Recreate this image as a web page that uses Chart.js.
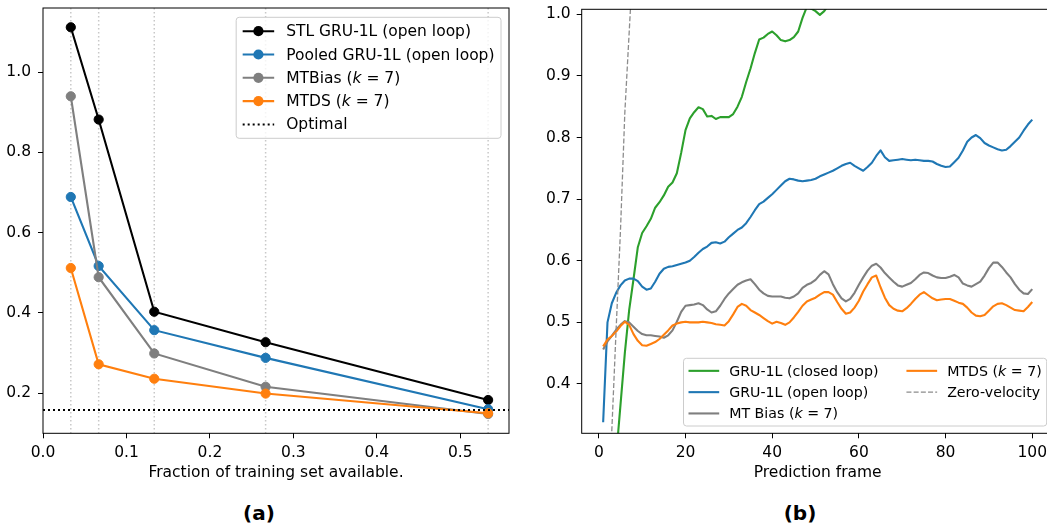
<!DOCTYPE html>
<html>
<head>
<meta charset="utf-8">
<script src="https://cdn.jsdelivr.net/npm/chart.js@4.4.1/dist/chart.umd.min.js"></script>
<style>
  html, body { margin: 0; padding: 0; background: #fff; }
  #wrap { position: relative; width: 1047px; height: 529px; overflow: hidden; }
  #left { position: absolute; left: 0; top: 0; }
  #right { position: absolute; left: 530px; top: 0; }
  .cap { position: absolute; top: 500px; width: 100px; text-align: center;
         font: bold 20px "DejaVu Sans", sans-serif; line-height: 26px; color: #000; }
</style>
</head>
<body>
<div id="wrap">
  <canvas id="left" width="530" height="495"></canvas>
  <canvas id="right" width="540" height="495"></canvas>
  <div class="cap" style="left:209px">(a)</div>
  <div class="cap" style="left:750px">(b)</div>
</div>
<script>
// ---- panel (a): error vs. fraction of training set ----
const FRACTIONS = [0.0333, 0.0667, 0.1333, 0.2667, 0.5333];
const STL_GRU = [1.112, 0.882, 0.403, 0.327, 0.183];
const POOLED_GRU = [0.689, 0.517, 0.357, 0.288, 0.160];
const MTBIAS_A = [0.940, 0.489, 0.299, 0.216, 0.148];
const MTDS_A = [0.512, 0.272, 0.236, 0.199, 0.150];
const OPTIMAL = 0.158;
const X_MIN_A = 0, X_MAX_A = 0.5583;
const X_TICKS_A = [0, 0.1, 0.2, 0.3, 0.4, 0.5];
const Y_TICKS_A = [0.2, 0.4, 0.6, 0.8, 1.0];

// ---- panel (b): error per prediction frame ----
const FRAMES = Array.from({ length: 100 }, (_, i) => i + 1);
const GRU_CLOSED = [
  0.06, 0.14, 0.21, 0.283, 0.366, 0.45, 0.52, 0.57, 0.622, 0.645,
  0.656, 0.668, 0.686, 0.695, 0.706, 0.720, 0.727, 0.742, 0.775, 0.812,
  0.831, 0.841, 0.849, 0.846, 0.834, 0.835, 0.830, 0.833, 0.833, 0.833,
  0.838, 0.850, 0.866, 0.890, 0.912, 0.937, 0.959, 0.962, 0.968, 0.972,
  0.966, 0.958, 0.956, 0.958, 0.963, 0.972, 0.994, 1.012, 1.009, 1.005,
  0.999, 1.005, 1.015, 1.025, 1.035
];
const GRU_OPEN = [
  0.338, 0.500, 0.531, 0.548, 0.560, 0.568, 0.571, 0.571, 0.567, 0.558,
  0.553, 0.555, 0.566, 0.579, 0.587, 0.590, 0.591, 0.593, 0.595, 0.597,
  0.600, 0.606, 0.613, 0.619, 0.623, 0.629, 0.630, 0.628, 0.631, 0.638,
  0.644, 0.650, 0.654, 0.661, 0.671, 0.682, 0.692, 0.696, 0.702, 0.708,
  0.715, 0.722, 0.729, 0.733, 0.732, 0.730, 0.729, 0.730, 0.731, 0.733,
  0.737, 0.740, 0.743, 0.746, 0.750, 0.754, 0.757, 0.759, 0.754, 0.750,
  0.746, 0.752, 0.759, 0.770, 0.779, 0.768, 0.762, 0.763, 0.764, 0.765,
  0.764, 0.763, 0.764, 0.763, 0.762, 0.762, 0.761, 0.757, 0.754, 0.752,
  0.753, 0.760, 0.767, 0.779, 0.793, 0.800, 0.804, 0.799, 0.791, 0.787,
  0.784, 0.781, 0.779, 0.780, 0.786, 0.793, 0.800, 0.811, 0.821, 0.829
];
const MTBIAS_B = [
  0.456, 0.469, 0.478, 0.488, 0.496, 0.502, 0.500, 0.493, 0.486, 0.481,
  0.479, 0.479, 0.478, 0.477, 0.475, 0.479, 0.487, 0.501, 0.517, 0.527,
  0.528, 0.529, 0.531, 0.528, 0.521, 0.516, 0.518, 0.527, 0.538, 0.547,
  0.554, 0.561, 0.565, 0.568, 0.570, 0.562, 0.553, 0.547, 0.543, 0.542,
  0.542, 0.542, 0.540, 0.539, 0.542, 0.547, 0.556, 0.561, 0.564, 0.569,
  0.577, 0.583, 0.578, 0.562, 0.549, 0.539, 0.534, 0.538, 0.548, 0.561,
  0.573, 0.584, 0.592, 0.595, 0.589, 0.580, 0.573, 0.566, 0.560, 0.558,
  0.561, 0.564, 0.570, 0.577, 0.581, 0.580, 0.576, 0.573, 0.572, 0.572,
  0.574, 0.577, 0.573, 0.563, 0.560, 0.558, 0.562, 0.566, 0.576, 0.588,
  0.597, 0.597, 0.590, 0.581, 0.573, 0.562, 0.553, 0.547, 0.546, 0.554
];
const MTDS_B = [
  0.461, 0.472, 0.478, 0.485, 0.494, 0.501, 0.496, 0.481, 0.470, 0.463,
  0.462, 0.465, 0.468, 0.473, 0.480, 0.487, 0.495, 0.498, 0.500, 0.501,
  0.500, 0.500, 0.500, 0.501, 0.500, 0.499, 0.497, 0.496, 0.495, 0.502,
  0.513, 0.525, 0.530, 0.527, 0.520, 0.516, 0.512, 0.507, 0.502, 0.498,
  0.501, 0.499, 0.496, 0.500, 0.508, 0.517, 0.527, 0.534, 0.537, 0.540,
  0.545, 0.549, 0.549, 0.545, 0.533, 0.522, 0.514, 0.516, 0.524, 0.535,
  0.550, 0.562, 0.573, 0.576, 0.557, 0.540, 0.528, 0.522, 0.519, 0.518,
  0.523, 0.530, 0.538, 0.545, 0.549, 0.544, 0.539, 0.536, 0.537, 0.538,
  0.538, 0.535, 0.532, 0.530, 0.524, 0.516, 0.511, 0.510, 0.512, 0.519,
  0.526, 0.530, 0.531, 0.528, 0.524, 0.520, 0.519, 0.518, 0.525, 0.533
];
const ZERO_VEL = [0.02, 0.17, 0.325, 0.49, 0.65, 0.84, 0.97, 1.10, 1.22, 1.33];
const X_MIN_B = -3.95, X_MAX_B = 104.95;
const Y_MIN_B = 0.32, Y_MAX_B = 1.008;
const X_TICKS_B = [0, 20, 40, 60, 80, 100];
const Y_TICKS_B = [0.4, 0.5, 0.6, 0.7, 0.8, 0.9, 1.0];

const FONT = '"DejaVu Sans", sans-serif';
Chart.defaults.font.family = FONT;
Chart.defaults.font.size = 15.5;
Chart.defaults.color = '#000';

const pts = (xs, ys) => ys.map((y, i) => ({ x: xs[i], y }));

// label text with an italic "k" (matplotlib mathtext look)
function drawLabel(ctx, text, x, y, size, draw) {
  const parts = text.split(/(?<=\()k(?= =)/);
  let cx = x;
  parts.forEach((p, i) => {
    if (i > 0) {
      ctx.font = `italic ${size}px ${FONT}`;
      if (draw) ctx.fillText('k', cx, y);
      cx += ctx.measureText('k').width;
      ctx.font = `${size}px ${FONT}`;
    }
    if (draw) ctx.fillText(p, cx, y);
    cx += ctx.measureText(p).width;
  });
  return cx - x;
}

const decor = {
  id: 'decor',
  beforeDatasetsDraw(chart, args, o) {
    if (!o.guides) return;
    const { ctx, chartArea: a, scales } = chart;
    ctx.save();
    ctx.strokeStyle = '#c8c8c8';
    ctx.lineWidth = 1.5;
    ctx.setLineDash([1.5, 2.5]);
    o.guides.forEach(v => {
      const px = scales.x.getPixelForValue(v);
      ctx.beginPath();
      ctx.moveTo(px, a.top);
      ctx.lineTo(px, a.bottom);
      ctx.stroke();
    });
    ctx.restore();
  },
  afterDatasetsDraw(chart, args, o) {
    const { ctx, chartArea: a } = chart;
    ctx.save();
    // spines
    ctx.strokeStyle = '#000';
    ctx.lineWidth = 1;
    ctx.strokeRect(a.left, a.top, a.right - a.left, a.bottom - a.top);

    // legend
    const L = o.legend;
    const ds = chart.data.datasets;
    ctx.font = `${L.size}px ${FONT}`;
    const cols = Math.ceil(ds.length / L.rows);
    const colW = [];
    for (let c = 0; c < cols; c++) {
      let w = 0;
      for (let r = 0; r < L.rows; r++) {
        const d = ds[c * L.rows + r];
        if (d) w = Math.max(w, drawLabel(ctx, d.label, 0, 0, L.size, false));
      }
      colW.push(L.handleLen + L.handlePad + w);
    }
    const boxW = 2 * L.padX + colW.reduce((s, w) => s + w, 0) + L.colGap * (cols - 1);
    const boxH = 2 * L.padY + L.rows * L.rowH;
    const x0 = a.right - L.insetX - boxW;
    const y0 = L.top ? a.top + L.insetY : a.bottom - L.insetY - boxH;
    ctx.beginPath();
    ctx.roundRect(x0, y0, boxW, boxH, 3);
    ctx.fillStyle = 'rgba(255,255,255,0.8)';
    ctx.fill();
    ctx.strokeStyle = '#cccccc';
    ctx.stroke();

    ctx.textBaseline = 'middle';
    ctx.textAlign = 'left';
    let cx = x0 + L.padX;
    for (let c = 0; c < cols; c++) {
      for (let r = 0; r < L.rows; r++) {
        const d = ds[c * L.rows + r];
        if (!d) continue;
        const cy = y0 + L.padY + (r + 0.5) * L.rowH;
        ctx.strokeStyle = d.borderColor;
        ctx.lineWidth = d.borderWidth;
        ctx.setLineDash(d.borderDash || []);
        ctx.beginPath();
        ctx.moveTo(cx, cy);
        ctx.lineTo(cx + L.handleLen, cy);
        ctx.stroke();
        ctx.setLineDash([]);
        if (d.pointRadius > 0) {
          ctx.fillStyle = d.borderColor;
          ctx.beginPath();
          ctx.arc(cx + L.handleLen / 2, cy, d.pointRadius + 0.5, 0, Math.PI * 2);
          ctx.fill();
        }
        ctx.fillStyle = '#000';
        drawLabel(ctx, d.label, cx + L.handleLen + L.handlePad, cy + 1, L.size, true);
      }
      cx += colW[c] + L.colGap;
    }
    ctx.restore();
  }
};

function xAxis(min, max, ticks, fmt, title, h) {
  return {
    type: 'linear', min, max,
    afterBuildTicks: s => { s.ticks = ticks.map(v => ({ value: v })); },
    afterFit: s => { s.height = h; s.paddingLeft = 0; s.paddingRight = 0; },
    grid: { drawOnChartArea: false, color: '#000', tickLength: 5 },
    border: { display: false },
    ticks: { callback: v => fmt(v), padding: 5, maxRotation: 0, autoSkip: false },
    title: { display: true, text: title, padding: { top: 0, bottom: 13 } }
  };
}
function yAxis(min, max, ticks, w, pad) {
  return {
    type: 'linear', min, max,
    afterBuildTicks: s => { s.ticks = ticks.map(v => ({ value: v })); },
    afterFit: s => { s.width = w; s.paddingTop = 0; s.paddingBottom = 0; },
    grid: { drawOnChartArea: false, color: '#000', tickLength: 5 },
    border: { display: false },
    ticks: { callback: v => Number(v).toFixed(1), padding: pad, autoSkip: false }
  };
}

function markerLine(label, color, ys, order) {
  return {
    label, data: pts(FRACTIONS, ys), borderColor: color, backgroundColor: color,
    borderWidth: 2.1, pointRadius: 4.6, pointBorderWidth: 1, pointBorderColor: color,
    pointBackgroundColor: color, tension: 0, order
  };
}
function plainLine(label, color, ys, order, extra) {
  return Object.assign({
    label, data: pts(FRAMES, ys), borderColor: color, borderWidth: 2.1,
    pointRadius: 0, tension: 0, borderJoinStyle: 'round', order, clip: 0
  }, extra || {});
}

new Chart(document.getElementById('left'), {
  type: 'line',
  data: {
    datasets: [
      markerLine('STL GRU-1L (open loop)', '#000000', STL_GRU, 5),
      markerLine('Pooled GRU-1L (open loop)', '#1f77b4', POOLED_GRU, 4),
      markerLine('MTBias (k = 7)', '#7f7f7f', MTBIAS_A, 3),
      markerLine('MTDS (k = 7)', '#ff7f0e', MTDS_A, 2),
      {
        label: 'Optimal', data: [{ x: X_MIN_A, y: OPTIMAL }, { x: X_MAX_A, y: OPTIMAL }],
        borderColor: '#000000', borderWidth: 2, borderDash: [2, 3], pointRadius: 0, order: 1
      }
    ]
  },
  options: {
    responsive: false, animation: false, devicePixelRatio: 1,
    layout: { padding: { top: 8, right: 21, bottom: 0, left: 0 } },
    scales: {
      x: xAxis(X_MIN_A, X_MAX_A, X_TICKS_A, v => Number(v).toFixed(1), 'Fraction of training set available.', 61.7),
      y: yAxis(0.1, 1.16, Y_TICKS_A, 43, 7)
    },
    plugins: {
      legend: { display: false }, tooltip: { enabled: false },
      decor: {
        guides: FRACTIONS,
        legend: { size: 15.5, rows: 5, padX: 6.5, padY: 2.25, rowH: 23.3, handleLen: 31.5, handlePad: 12, colGap: 0, insetX: 8, insetY: 9.3, top: true }
      }
    }
  },
  plugins: [decor]
});

new Chart(document.getElementById('right'), {
  type: 'line',
  data: {
    datasets: [
      plainLine('GRU-1L (closed loop)', '#2ca02c', GRU_CLOSED, 5),
      plainLine('GRU-1L (open loop)', '#1f77b4', GRU_OPEN, 4),
      plainLine('MT Bias (k = 7)', '#7f7f7f', MTBIAS_B, 3),
      plainLine('MTDS (k = 7)', '#ff7f0e', MTDS_B, 2),
      plainLine('Zero-velocity', '#8c8c8c', ZERO_VEL, 1, { borderWidth: 1.3, borderDash: [5, 2.2] })
    ]
  },
  options: {
    responsive: false, animation: false, devicePixelRatio: 1,
    layout: { padding: { top: 9.3, right: 16.3, bottom: 0, left: 0 } },
    scales: {
      x: xAxis(X_MIN_B, X_MAX_B, X_TICKS_B, v => String(v), 'Prediction frame', 61.7),
      y: yAxis(Y_MIN_B, Y_MAX_B, Y_TICKS_B, 51.7, 6)
    },
    plugins: {
      legend: { display: false }, tooltip: { enabled: false },
      decor: {
        legend: { size: 14.2, rows: 3, padX: 5, padY: 1.9, rowH: 21.3, handleLen: 30.7, handlePad: 10, colGap: 28, insetX: 7, insetY: 7.3, top: false }
      }
    }
  },
  plugins: [decor]
});
</script>
</body>
</html>
